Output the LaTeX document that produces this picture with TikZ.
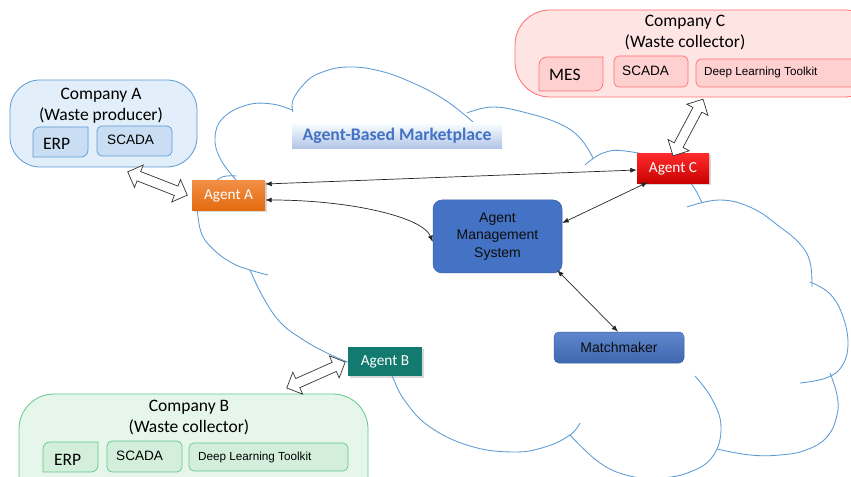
\documentclass[tikz,border=0pt]{standalone}
\usepackage{fontspec}
\setmainfont{Carlito}
\newfontfamily\arialfont{Liberation Sans}
\usetikzlibrary{arrows.meta,shadows}

\definecolor{cloudblue}{HTML}{5B9BD5}
\definecolor{aFill}{HTML}{E2EEF9}
\definecolor{aInner}{HTML}{C9DEF2}
\definecolor{aLine}{HTML}{5B9BD5}
\definecolor{bFill}{HTML}{E6F6EB}
\definecolor{bInner}{HTML}{D3EFDC}
\definecolor{bLine}{HTML}{62C788}
\definecolor{cFill}{HTML}{FFE4E4}
\definecolor{cInner}{HTML}{FFD0D0}
\definecolor{cLine}{HTML}{FF6E6E}
\definecolor{amsBlue}{HTML}{4472C4}
\definecolor{tealB}{HTML}{137A70}
\definecolor{orangeTop}{HTML}{F28E45}
\definecolor{orangeBot}{HTML}{E36A0E}
\definecolor{redTop}{HTML}{FF2A2A}
\definecolor{redBot}{HTML}{C80000}

\newcommand{\setfs}[2]{\fontsize{#1bp}{#2bp}\selectfont}
% rectangle with the top-left and bottom-right corners rounded
\newcommand{\diagrect}[6]{% x1 y1 x2 y2 radius style
  \draw[#6] (#1,#4) -- (#1,{#2+#5}) arc[start angle=180,end angle=270,radius=#5]
    -- (#3,#2) -- (#3,{#4-#5}) arc[start angle=0,end angle=90,radius=#5] -- cycle;}

\tikzset{
  cloudline/.style={draw=cloudblue, line width=0.85bp},
  boxA/.style={draw=aLine, fill=aFill, line width=0.8bp},
  boxB/.style={draw=bLine, fill=bFill, line width=0.8bp},
  boxC/.style={draw=cLine, fill=cFill, line width=0.8bp},
  innA/.style={draw=aLine, fill=aInner, line width=0.7bp},
  innB/.style={draw=bLine, fill=bInner, line width=0.7bp},
  innC/.style={draw=cLine, fill=cInner, line width=0.7bp},
  title/.style={anchor=base, inner sep=0, font=\setfs{17.5}{21}},
  bigtag/.style={anchor=base west, inner sep=0, font=\setfs{17.5}{21}},
  scadatag/.style={anchor=base west, inner sep=0, font=\arialfont\setfs{13.6}{16}},
  dltag/.style={anchor=base west, inner sep=0, font=\arialfont\setfs{11.7}{14}},
  agent/.style={minimum width=73bp, minimum height=30bp, inner sep=0, text=white,
    font=\setfs{15.3}{18},
    drop shadow={shadow xshift=1.5bp, shadow yshift=-1.5bp, opacity=0.3}},
  service/.style={draw=amsBlue!85!black, line width=0.5bp, inner sep=0,
    font=\arialfont\setfs{14}{17.5}, align=center, text=black!95},
  link/.style={{Latex[length=6.5bp,width=5bp]}-{Latex[length=6.5bp,width=5bp]},
    draw=black!85, line width=0.7bp},
  dblarrow/.pic={
    \draw[fill=white, draw=black!80, line width=0.7bp, line join=miter]
      (-32,0) -- (-20,12) -- (-20,5) -- (20,5) -- (20,12) -- (32,0)
      -- (20,-12) -- (20,-5) -- (-20,-5) -- (-20,-12) -- cycle;}
}

\begin{document}
\begin{tikzpicture}[x=1bp,y=-1bp]
\clip (0,0) rectangle (851,477);
\fill[white] (0,0) rectangle (851,477);

% ---------- the marketplace cloud ----------
\begin{scope}[cloudline]
  \draw plot[smooth, tension=0.7] coordinates {(210,186) (222,177) (236,176)};
  \draw plot[smooth, tension=0.7] coordinates {(237,181) (221,160) (215,138) (223,118) (247,105) (272,104) (292,110)};
  \draw plot[smooth, tension=0.7] coordinates {(293,112) (293,100) (305,83) (320,73) (347,67) (380,71) (413,83) (445,100) (473,122)};
  \draw plot[smooth, tension=0.7] coordinates {(467,113) (493,107) (527,113) (560,124) (580,138) (593,158)};
  \draw plot[smooth, tension=0.7] coordinates {(585,165) (603,153) (625,151) (660,160) (688,180) (702,203)};
  \draw plot[smooth, tension=0.7] coordinates {(687,207) (720,200) (752,208) (780,227) (800,244) (810,262) (812,287)};
  \draw plot[smooth, tension=0.7] coordinates {(810,282) (829,293) (842,314) (848,343) (842,366) (826,378) (800,383)};
  \draw plot[smooth, tension=0.7] coordinates {(830,373) (837,395) (837,415) (827,437) (806,450) (780,455) (750,455) (717,449)};
  \draw plot[smooth, tension=0.7] coordinates {(695,376) (712,399) (721,427) (713,456) (690,472) (660,478) (630,476) (600,463) (570,435)};
  \draw plot[smooth, tension=0.7] coordinates {(580,423) (570,435) (545,447) (513,452) (470,446) (430,427) (405,401) (392,376) (385,362)};
  \draw plot[smooth, tension=0.7] coordinates {(350,363) (327,353) (302,339) (280,322) (263,297) (250,270)};
  \draw plot[smooth, tension=0.7] coordinates {(197,205) (201,232) (213,249) (232,263) (250,270) (268,275)};
\end{scope}

% ---------- Company A ----------
\draw[boxA, rounded corners=30bp] (10,80) rectangle (197,167);
\node[title] (ttlA1) at (101,100) {Company A};
\node[title] (ttlA2) at (101,120.5) {(Waste producer)};
\diagrect{33}{127}{88}{157}{7}{innA}
\node[bigtag] (erpA) at (43,150) {ERP};
\draw[innA, rounded corners=5bp] (97,126) rectangle (172,156);
\node[scadatag] (scadaA) at (107,145) {SCADA};

% ---------- Company B ----------
\draw[boxB, rounded corners=35bp] (19,394) rectangle (368,520);
\node[title] (ttlB1) at (189,411.5) {Company B};
\node[title] (ttlB2) at (189,432.5) {(Waste collector)};
\diagrect{43}{442}{98}{472}{7}{innB}
\node[bigtag] (erpB) at (54,465) {ERP};
\draw[innB, rounded corners=5bp] (107,441) rectangle (182,472);
\node[scadatag] (scadaB) at (116,460) {SCADA};
\draw[innB, rounded corners=5bp] (189,443) rectangle (348,471);
\node[dltag] (dlB) at (198,460.5) {Deep Learning Toolkit};

% ---------- Company C ----------
\draw[boxC, rounded corners=35bp] (515,10) rectangle (880,97);
\node[title] (ttlC1) at (685,26.5) {Company C};
\node[title] (ttlC2) at (685,48) {(Waste collector)};
\diagrect{539}{57}{603}{91}{8}{innC}
\node[bigtag] (mesC) at (549,81) {MES};
\draw[innC, rounded corners=5bp] (614,56) rectangle (688,87);
\node[scadatag] (scadaC) at (622,76) {SCADA};
\draw[innC, rounded corners=5bp] (696,59) rectangle (870,87);
\node[dltag] (dlC) at (704,76) {Deep Learning Toolkit};

% ---------- marketplace title ----------
\node[minimum width=210bp, minimum height=26bp, inner sep=0,
      top color=blue!4!cyan!2!white, bottom color=amsBlue!42!white,
      text=amsBlue, font=\bfseries\setfs{17.7}{20}] (market) at (397,136) {Agent-Based Marketplace};

% ---------- agents and services ----------
\node[agent, top color=orangeTop, bottom color=orangeBot] (agA) at (228.5,196) {Agent A};
\node[agent, fill=tealB, minimum width=74bp, minimum height=29bp] (agB) at (385,361.5) {Agent B};
\node[agent, top color=redTop, bottom color=redBot, minimum width=72bp] (agC) at (673,169) {Agent C};

\node[service, fill=amsBlue, rounded corners=9bp, minimum width=129bp, minimum height=73bp] (ams) at (497.5,236.5)
  {Agent\\Management\\System};
\node[service, top color=amsBlue!85!white, bottom color=amsBlue!90!black, rounded corners=5bp,
      minimum width=130bp, minimum height=31bp] (mm) at (619,347.5) {Matchmaker};

% ---------- message links ----------
\draw[link] ([yshift=12bp]agA.east) -- ([yshift=-1bp]agC.west);
\draw[link] ([yshift=-4bp]agA.east) .. controls +(85,0) and +(-10,-25) .. ([yshift=-5.5bp]ams.west);
\draw[link] ([yshift=13.5bp]ams.east) -- ([xshift=11bp,yshift=2bp]agC.south west);
\draw[link] ([xshift=-5bp,yshift=3bp]ams.south east) -- ([xshift=-1bp]mm.north);

% ---------- company interfaces ----------
\pic[rotate=-21.3] (ifA) at (157.5,183.5) {dblarrow};
\pic[rotate=24] (ifB) at (316,375) {dblarrow};
\pic[rotate=62] (ifC) at (688,127.5) {dblarrow};
\end{tikzpicture}
\end{document}
